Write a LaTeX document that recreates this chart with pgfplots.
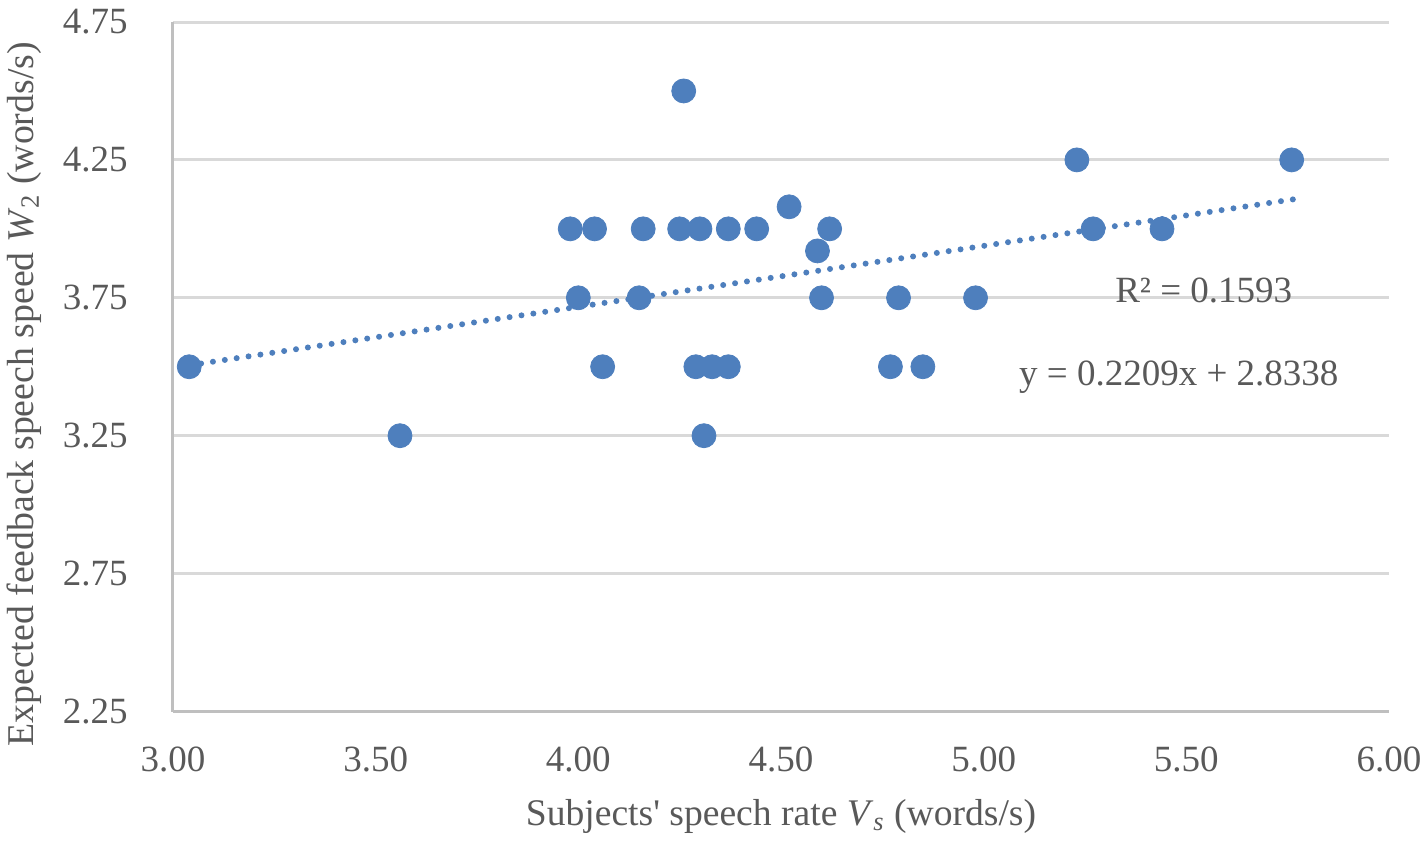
\documentclass[border=0pt]{standalone}
\usepackage{pgfplots}
\pgfplotsset{compat=1.18}
\usepackage{fontspec}
\setmainfont{Liberation Serif}
\definecolor{markblue}{HTML}{4E7FBD}
\definecolor{gridgray}{HTML}{D9D9D9}
\definecolor{axgray}{HTML}{BFBFBF}
\definecolor{txtgray}{HTML}{595959}
\begin{document}
\fontsize{18.5}{22}\selectfont
\begin{tikzpicture}
\begin{axis}[
  scale only axis,
  width=608pt, height=344.75pt,
  xmin=3, xmax=6, ymin=2.25, ymax=4.75,
  xtick={3,3.5,4,4.5,5,5.5,6},
  ytick={2.25,2.75,3.25,3.75,4.25,4.75},
  /pgf/number format/assume math mode=true,
  xticklabel style={/pgf/number format/.cd, fixed, fixed zerofill, precision=2, /tikz/.cd, anchor=north, inner sep=0pt, yshift=-17.5pt, font=\fontsize{18.5}{22}\selectfont, text=txtgray},
  yticklabel style={/pgf/number format/.cd, fixed, fixed zerofill, precision=2, /tikz/.cd, anchor=east, inner sep=0pt, xshift=-22.5pt, font=\fontsize{18.5}{22}\selectfont, text=txtgray},
  tick style={draw=none},
  axis x line*=bottom, axis y line*=left,
  axis line style={draw=axgray, line width=1.5pt, -},
  ymajorgrids, grid style={draw=gridgray, line width=1.5pt},
  xlabel={Subjects\textquotesingle{} speech rate \textit{V}\textsubscript{\textit{s}} (words/s)},
  ylabel={Expected feedback speech speed \textit{W}\textsubscript{2} (words/s)},
  xlabel style={at={(axis description cs:0.5,-0.1515)}, anchor=center, font=\fontsize{18.8}{22}\selectfont, text=txtgray},
  ylabel style={at={(axis description cs:-0.1225,0.46)}, anchor=center, font=\fontsize{18.9}{22}\selectfont, text=txtgray},
  clip=false,
]
\addplot[only marks, mark=*, mark size=6pt, mark options={draw=markblue, fill=markblue}] coordinates {
(3.04,3.50) (3.56,3.25) (3.98,4.00) (4.04,4.00) (4.00,3.75) (4.06,3.50)
(4.15,3.75) (4.16,4.00) (4.26,4.50) (4.25,4.00) (4.30,4.00) (4.29,3.50)
(4.33,3.50) (4.37,3.50) (4.31,3.25) (4.37,4.00) (4.44,4.00) (4.52,4.08)
(4.59,3.92) (4.62,4.00) (4.60,3.75) (4.77,3.50) (4.79,3.75) (4.85,3.50)
(4.98,3.75) (5.23,4.25) (5.27,4.00) (5.44,4.00) (5.76,4.25)
};
\addplot[markblue, line width=3pt, line cap=round, dash pattern=on 0pt off 6pt] coordinates {
(3.04,3.5053) (5.78,4.1106)
};
\node[anchor=base, text=txtgray, font=\fontsize{18.5}{22}\selectfont] at (axis cs:5.543,3.7326) {R² = 0.1593};
\node[anchor=base, text=txtgray, font=\fontsize{18.5}{22}\selectfont] at (axis cs:5.4815,3.431) {y = 0.2209x + 2.8338};
\end{axis}
\pgfresetboundingbox
\path (-86.5pt,-65.25pt) rectangle (624pt,355.75pt);
\end{tikzpicture}
\end{document}
